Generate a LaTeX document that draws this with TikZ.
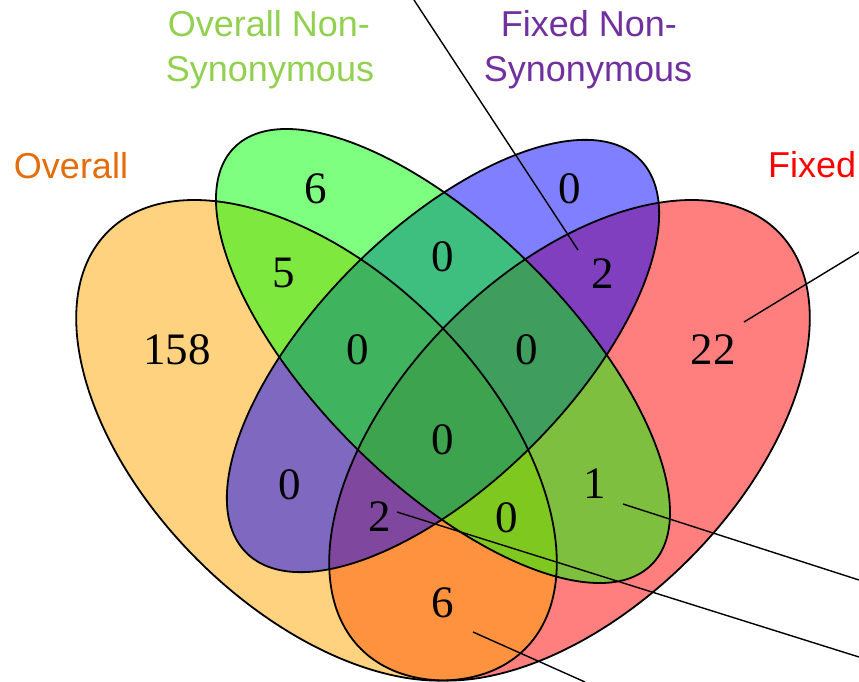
\documentclass[tikz,border=0pt]{standalone}
\usepackage{fontspec}
\setmainfont{Liberation Serif}
\newfontfamily\labelfont{Liberation Sans}

\definecolor{setA}{RGB}{255,165,0}
\definecolor{setB}{RGB}{0,255,0}
\definecolor{setC}{RGB}{0,0,255}
\definecolor{setD}{RGB}{255,0,0}
\definecolor{txtA}{RGB}{228,108,10}
\definecolor{txtB}{RGB}{146,208,80}
\definecolor{txtC}{RGB}{112,48,160}
\definecolor{txtD}{RGB}{255,0,0}

\tikzset{
  vennfill/.style={fill opacity=0.5},
  vennline/.style={draw=black, line width=1.8pt},
  num/.style={font=\fontsize{45}{54}\selectfont, inner sep=0pt, text=black},
  setlabel/.style={font=\labelfont\fontsize{36}{45}\selectfont, inner sep=0pt, anchor=base},
  leader/.style={draw=black, line width=1.4pt},
  % the four ellipses: Overall, Overall Non-Syn., Fixed Non-Syn., Fixed
  ellA/.style={shift={(316.5,440.3)}, rotate=135},
  ellB/.style={shift={(443,356)}, rotate=135},
  ellC/.style={shift={(443,356)}, rotate=45},
  ellD/.style={shift={(569.5,440.3)}, rotate=45},
}

\begin{document}
\begin{tikzpicture}[x=1pt,y=-1pt]
\useasboundingbox (0,0) rectangle (859,682);
\clip (0,0) rectangle (859,682);

% translucent fills, layered
\fill[setD, vennfill, ellD] (0,0) ellipse [x radius=295, y radius=168.6];
\fill[setA, vennfill, ellA] (0,0) ellipse [x radius=295, y radius=168.6];
\fill[setC, vennfill, ellC] (0,0) ellipse [x radius=278.2, y radius=126.5];
\fill[setB, vennfill, ellB] (0,0) ellipse [x radius=295, y radius=126.5];

% outlines
\draw[vennline, ellD] (0,0) ellipse [x radius=295, y radius=168.6];
\draw[vennline, ellA] (0,0) ellipse [x radius=295, y radius=168.6];
\draw[vennline, ellC] (0,0) ellipse [x radius=278.2, y radius=126.5];
\draw[vennline, ellB] (0,0) ellipse [x radius=295, y radius=126.5];

% region counts
\node[num] (nB)    at (316,189) {6};
\node[num] (nC)    at (570,189) {0};
\node[num] (nAB)   at (284,273) {5};
\node[num] (nBC)   at (443,257) {0};
\node[num] (nCD)   at (603,274) {2};
\node[num] (nA)    at (177,350) {158};
\node[num] (nABC)  at (358,350) {0};
\node[num] (nBCD)  at (527,350) {0};
\node[num] (nD)    at (713,350) {22};
\node[num] (nABCD) at (443,440) {0};
\node[num] (nAC)   at (290,485) {0};
\node[num] (nBD)   at (595,484) {1};
\node[num] (nACD)  at (380,517) {2};
\node[num] (nABD)  at (507,518) {0};
\node[num] (nAD)   at (443,603) {6};

% set names
\node[setlabel, text=txtA] (labA)  at (71,178) {Overall};
\node[setlabel, text=txtB] (labB1) at (269,37) {Overall Non-};
\node[setlabel, text=txtB] (labB2) at (270,82) {Synonymous};
\node[setlabel, text=txtC] (labC1) at (589,37) {Fixed Non-};
\node[setlabel, text=txtC] (labC2) at (588,82) {Synonymous};
\node[setlabel, text=txtD, anchor=base west] (labD) at (768,177) {Fixed};

% leader lines
\coordinate (p1a) at (578,250); \coordinate (p1b) at (414,0);
\coordinate (p2a) at (744,322); \coordinate (p2b) at (859,252);
\coordinate (p3a) at (623,504); \coordinate (p3b) at (859,580);
\coordinate (p4a) at (397,512); \coordinate (p4b) at (859,657);
\coordinate (p5a) at (473,632); \coordinate (p5b) at (585,682);
\draw[leader] (p1a) -- (p1b);
\draw[leader] (p2a) -- (p2b);
\draw[leader] (p3a) -- (p3b);
\draw[leader] (p4a) -- (p4b);
\draw[leader] (p5a) -- (p5b);
\end{tikzpicture}
\end{document}
